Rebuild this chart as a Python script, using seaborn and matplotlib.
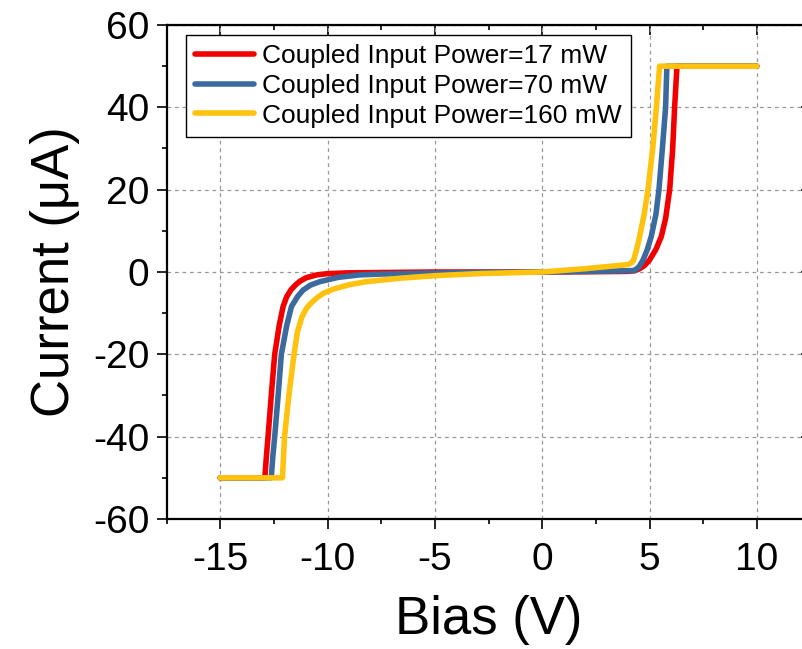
import numpy as np
import pandas as pd
import matplotlib
matplotlib.use('Agg')
import matplotlib.pyplot as plt
from matplotlib.ticker import MultipleLocator
import seaborn as sns

# values (bias in V, current in uA)
labels = ['Coupled Input Power=17 mW', 'Coupled Input Power=70 mW', 'Coupled Input Power=160 mW']
colors = ['#F20000', '#3A6A9E', '#FFC20E']

bias_17 = [-15, -12.92, -12.85, -12.77, -12.62, -12.46, -12.25, -12.07, -11.9, -11.7, -11.5, -11.3,
           -11.0, -10.5, -10.0, -9.0, -7.0, -5.0, -3.0, 0, 2.0, 4.0, 4.3, 4.5, 4.75, 5.0, 5.3,
           5.55, 5.75, 5.94, 6.08, 6.17, 6.28, 10.0]
curr_17 = [-50, -50, -45, -40, -30, -20, -13, -8.4, -6, -4.3, -3.2, -2.3,
           -1.4, -0.7, -0.4, -0.2, -0.1, 0, 0, 0, 0.05, 0.15, 0.3, 0.7, 1.5, 2.9, 5.5,
           8.6, 13, 20, 30, 40, 50, 50]

bias_70 = [-15, -12.62, -12.55, -12.46, -12.3, -12.15, -11.9, -11.68, -11.4, -11.14, -10.8, -10.36,
           -9.5, -8.5, -7.5, -5.0, -3.0, 0, 2.0, 4.0, 4.3, 4.5, 4.7, 4.9, 5.08, 5.3, 5.44,
           5.6, 5.75, 5.81, 10.0]
curr_70 = [-50, -50, -45, -40, -30, -20, -13, -8.4, -6, -4.4, -3.2, -2.35,
           -1.3, -0.7, -0.5, -0.25, -0.1, 0, 0.15, 0.3, 0.4, 1.2, 2.9, 5.5, 8.6, 14, 20,
           30, 40, 50, 50]

bias_160 = [-15, -12.1, -12.05, -12.0, -11.8, -11.56, -11.4, -11.2, -11.0, -10.8, -10.5, -10.2,
            -9.75, -9.0, -8.2, -6.6, -5.0, -3.0, 0, 2.0, 4.0, 4.2, 4.26, 4.4, 4.54, 4.75,
            4.93, 5.15, 5.32, 5.47, 10.0]
curr_160 = [-50, -50, -45, -40, -30, -20, -14.5, -11, -9, -7.7, -6.3, -5.2,
            -4.2, -3.1, -2.35, -1.5, -0.9, -0.4, 0, 0.8, 1.8, 2.4, 2.9, 5.5, 8.6, 14,
            20, 30, 40, 50, 50]

x_ticks = [-15, -10, -5, 0, 5, 10]
y_ticks = [-60, -40, -20, 0, 20, 40, 60]

frames = []
for lab, b, c in zip(labels, [bias_17, bias_70, bias_160], [curr_17, curr_70, curr_160]):
    frames.append(pd.DataFrame({'Bias': b, 'Current': c, 'series': lab}))
df = pd.concat(frames, ignore_index=True)

sns.set_style('ticks')
plt.rcParams['font.family'] = ['Liberation Sans', 'DejaVu Sans']
plt.rcParams['axes.unicode_minus'] = False
plt.rcParams['text.color'] = 'black'
plt.rcParams['axes.labelcolor'] = 'black'
plt.rcParams['xtick.color'] = 'black'
plt.rcParams['ytick.color'] = 'black'

fig = plt.figure(figsize=(8.02, 6.49), dpi=100)
ax = fig.add_axes([166.5 / 802, 1 - 519 / 649, 644 / 802, 494 / 649])

sns.lineplot(data=df, x='Bias', y='Current', hue='series', hue_order=labels,
             palette=colors, estimator=None, sort=False, lw=4, ax=ax, zorder=3)

ax.set_xlim(-17.5, 12.5)
ax.set_ylim(-60, 60)
ax.set_xticks(x_ticks)
ax.set_yticks(y_ticks)
ax.xaxis.set_minor_locator(MultipleLocator(2.5))
ax.yaxis.set_minor_locator(MultipleLocator(10))

ax.grid(True, which='major', linestyle=(0, (3, 3)), color='#999999', lw=0.9, zorder=0)

for s in ax.spines.values():
    s.set_linewidth(1.6)
    s.set_color('black')
ax.tick_params(which='major', direction='out', length=7.5, width=1.2, labelsize=28,
               colors='black')
ax.tick_params(axis='x', which='major', pad=9)
ax.tick_params(axis='y', which='major', pad=5)
ax.tick_params(which='minor', direction='out', length=3.8, width=1.2)

# mirrored axes with inward ticks (top and right)
top = ax.secondary_xaxis('top')
top.set_xticks(x_ticks)
top.xaxis.set_minor_locator(MultipleLocator(2.5))
top.tick_params(which='major', direction='in', length=7.5, width=1.2, labeltop=False)
top.tick_params(which='minor', direction='in', length=3.8, width=1.2)
right = ax.secondary_yaxis('right')
right.set_yticks(y_ticks)
right.yaxis.set_minor_locator(MultipleLocator(10))
right.tick_params(which='major', direction='in', length=7.5, width=1.2, labelright=False)
right.tick_params(which='minor', direction='in', length=3.8, width=1.2)

ax.set_xlabel('Bias (V)', fontsize=38, labelpad=12, color='black')
ax.set_ylabel('Current (μA)', fontsize=38, labelpad=9, color='black')

leg = ax.legend(loc='upper left', bbox_to_anchor=(0.030, 0.98), borderaxespad=0,
                fontsize=19, borderpad=0.35, handlelength=2.25, handletextpad=0.28,
                labelspacing=0.22, fancybox=False, framealpha=1, edgecolor='black')
leg.get_frame().set_linewidth(1.0)
for t in leg.get_texts():
    t.set_color('black')
for h in leg.get_lines():
    h.set_linewidth(4)

fig.savefig('out.png', dpi=100)
